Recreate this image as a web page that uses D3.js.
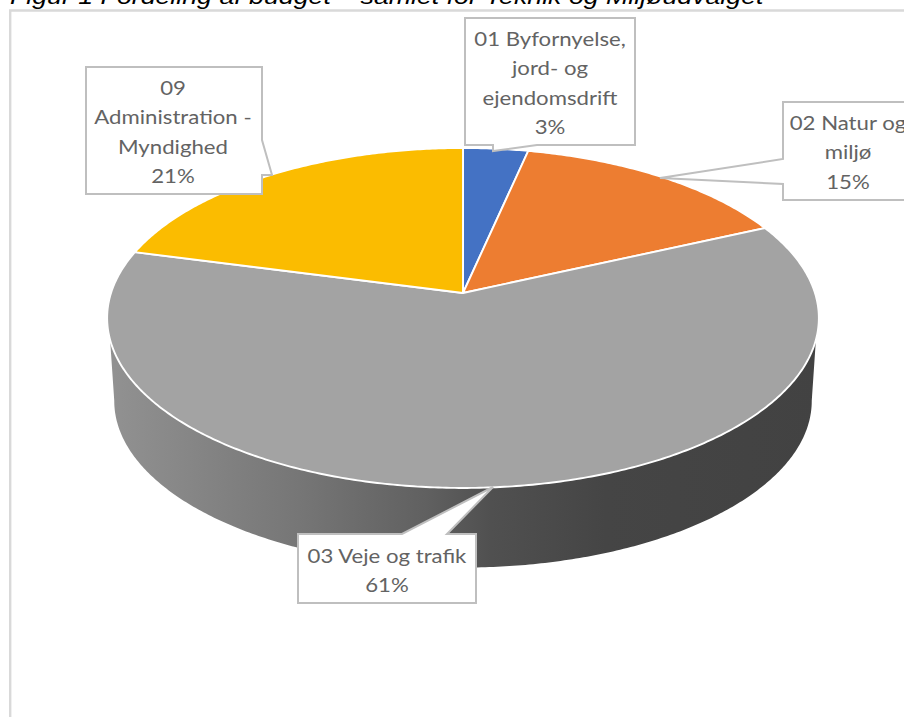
<!DOCTYPE html>
<html>
<head>
<meta charset="utf-8">
<script src="https://cdn.jsdelivr.net/npm/d3@7"></script>
<style>
html,body{margin:0;padding:0;background:#fff;overflow:hidden}
svg{display:block}
text{font-family:Lato,"Open Sans",sans-serif}
</style>
</head>
<body>
<svg id="chart" width="904" height="718"></svg>
<script>
const chartTitle = "Figur 1 Fordeling af budget – samlet for Teknik og Miljøudvalget";
const categories = ["01 Byfornyelse, jord- og ejendomsdrift", "02 Natur og miljø", "03 Veje og trafik", "09 Administration - Myndighed"];
const labelLines = [["01 Byfornyelse,", "jord- og", "ejendomsdrift"], ["02 Natur og", "miljø"], ["03 Veje og trafik"], ["09", "Administration -", "Myndighed"]];
const values = [3.4, 14.8, 60.9, 20.9];
const sliceColors = ["#4472C4", "#ED7D31", "#A3A3A3", "#FBBC00"];

// callout layout, in page pixels: box, text centre, first line centre, pointer polygon
const calloutLayout = [
  {x0:465, y0:18,  x1:635, y1:145, cx:550, cy:39,  ptr:[[493,145],[493,151],[537,145]]},
  {x0:783, y0:102, x1:930, y1:200, cx:848, cy:123, ptr:[[783,159],[660,178],[783,184]]},
  {x0:298, y0:534, x1:476, y1:603, cx:387, cy:556, ptr:[[402,534],[493,487],[447,534]]},
  {x0:86,  y0:67,  x1:262, y1:194, cx:173, cy:88,  ptr:[[262,140],[272,175],[262,175]]}
];
const labelStretch = 1.11, titleStretch = 1.215; // the reference is widened horizontally

const svg = d3.select("#chart");
const defs = svg.append("defs");
const grad = defs.append("linearGradient").attr("id","wall").attr("gradientUnits","userSpaceOnUse")
  .attr("x1",107).attr("x2",819).attr("y1",0).attr("y2",0);
[[0,"#929292"],[0.27,"#767676"],[0.45,"#606060"],[0.54,"#505050"],[0.70,"#454545"],[1,"#424242"]]
  .forEach(s => grad.append("stop").attr("offset",s[0]).attr("stop-color",s[1]));

// Perspective projection of the pie disc
const tilt = 0.147, R = 352, S = 166.3;
const cx = 463, apexY = 293, centreY = 318;
const wallScale = 0.98, wallCentreY = 401;
function project(a, lower){
  const u = Math.sin(a), v = Math.cos(a), d = 1 + tilt * v;
  const X = R * u / d, Y = -S * v / d;
  if(!lower) return [cx + X, apexY + Y];
  return [cx + wallScale * X, wallCentreY + wallScale * (apexY + Y - centreY)];
}
function samples(a0, a1){
  const n = Math.max(2, Math.ceil(Math.abs(a1 - a0) / 0.01));
  return d3.range(n + 1).map(i => a0 + (a1 - a0) * i / n);
}

const pie = d3.pie().sort(null).value(d => d);
const arcs = pie(values);
const line = d3.line();

// frame
svg.append("path").attr("d", line([[10.2,717],[10.2,10.5],[904,10.5]]))
  .attr("fill","none").attr("stroke","#d9d9d9").attr("stroke-width",2.4);

// title
svg.append("text").text(chartTitle)
  .attr("transform",`translate(10,3.5) scale(${titleStretch},1)`)
  .style("font-family","'Liberation Sans',Arial,sans-serif")
  .style("font-style","italic").attr("font-size",22).attr("fill","#000");

// side wall, from slice 03 between the silhouette points
const rad = d => d * Math.PI / 180;
const big = arcs[2];
const upperA = samples(Math.max(big.startAngle, rad(105.7)), Math.min(big.endAngle, rad(254.3)));
const lowerA = samples(Math.min(big.endAngle, rad(261.6)), Math.max(big.startAngle, rad(98.4)));
svg.append("path")
  .attr("d", line(upperA.map(a => project(a,false)).concat(lowerA.map(a => project(a,true)))) + "Z")
  .attr("fill","url(#wall)");

// top face
svg.append("g").selectAll("path").data(arcs).join("path")
  .attr("d", d => line([[cx,apexY]].concat(samples(d.startAngle,d.endAngle).map(a => project(a,false)))) + "Z")
  .attr("fill",(d,i) => sliceColors[i])
  .attr("stroke","#fff").attr("stroke-width",1.9).attr("stroke-linejoin","round");

// callouts
const fmt = d3.format(".0%");
const total = d3.sum(values);
const c = svg.append("g").selectAll("g").data(categories).join("g");
c.append("path")
  .attr("d",(d,i) => {
    const b = calloutLayout[i];
    const side = i === 2 ? "top" : i === 0 ? "bottom" : i === 1 ? "left" : "right";
    const tl=[b.x0,b.y0], tr=[b.x1,b.y0], br=[b.x1,b.y1], bl=[b.x0,b.y1];
    const p = b.ptr;
    let pts;
    if(side==="top") pts=[tl,...p,tr,br,bl];
    if(side==="right") pts=[tl,tr,...p,br,bl];
    if(side==="bottom") pts=[tl,tr,br,p[2],p[1],p[0],bl];
    if(side==="left") pts=[tl,tr,br,bl,p[2],p[1],p[0]];
    return line(pts)+"Z";
  })
  .attr("fill","#fff").attr("stroke","#bfbfbf").attr("stroke-width",2).attr("stroke-linejoin","miter");
c.each(function(d,i){
  const b = calloutLayout[i];
  const lines = labelLines[i].concat([fmt(values[i]/total)]);
  d3.select(this).selectAll("text").data(lines).join("text")
    .text(t => t)
    .attr("transform",(t,j) => `translate(${b.cx},${b.cy + j*29.3}) scale(${labelStretch},1)`)
    .attr("dy","0.35em")
    .attr("text-anchor","middle")
    .attr("font-size",20)
    .attr("fill","#636363");
});
</script>
</body>
</html>
